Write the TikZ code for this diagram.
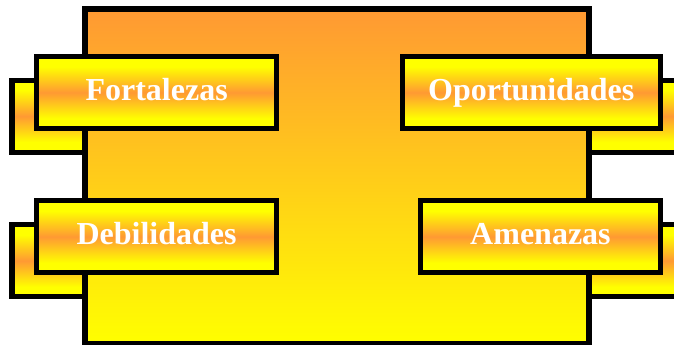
\documentclass[tikz,border=0pt]{standalone}
\usepackage{fontspec}
\setmainfont{Liberation Serif}
\definecolor{yel}{HTML}{FFFF00}
\definecolor{org}{HTML}{FF9933}
\pgfdeclareverticalshading{band}{100bp}{color(0bp)=(yel); color(32bp)=(yel); color(50bp)=(org); color(68bp)=(yel); color(100bp)=(yel)}
\tikzset{
  bandbox/.style={draw=black, line width=5.3pt, shading=band, rectangle,
    minimum width=240pt, minimum height=72pt, inner sep=0pt,
    text=white, font=\fontsize{32}{38}\selectfont\bfseries,
    text height=22pt, text depth=6pt},
  mainbox/.style={draw=black, line width=6pt, rectangle, top color=org, bottom color=yel,
    minimum width=504pt, minimum height=335pt, inner sep=0pt}
}
\begin{document}
\begin{tikzpicture}[x=1pt,y=-1pt]
\useasboundingbox (0,0) rectangle (674,345);
% shadow boxes
\node[bandbox] (shF) at (132,116.2) {};
\node[bandbox, minimum width=258pt] (shO) at (555.25,116.2) {};
\node[bandbox] (shD) at (132,260.8) {};
\node[bandbox] (shA) at (564.5,260.8) {};
% main rectangle
\node[mainbox] (main) at (337,176.5) {};
% label boxes
\node[bandbox] (F) at (156.6,92.6) {Fortalezas};
\node[bandbox, minimum width=258pt] (O) at (531.25,92.6) {Oportunidades};
\node[bandbox] (D) at (156.6,236.8) {Debilidades};
\node[bandbox] (A) at (540.45,236.8) {Amenazas};
\end{tikzpicture}
\end{document}
